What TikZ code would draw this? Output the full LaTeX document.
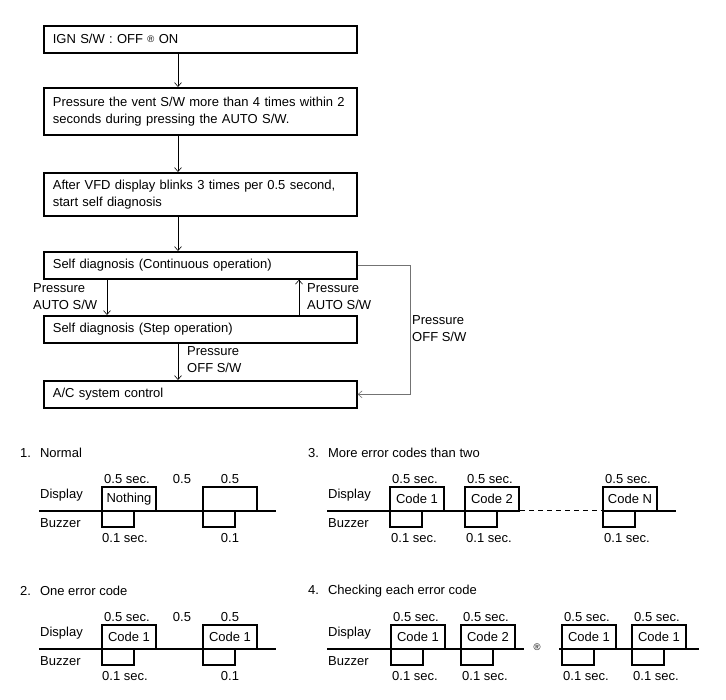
\documentclass[tikz,border=0pt]{standalone}
\usepackage{fontspec}
\setmainfont{Liberation Sans}
\usetikzlibrary{arrows.meta}
\newcommand\tpulse[4]{%
  \draw[wave] ({#1},{-#2}) |- ({#1+54},{-#2+24}) -- ({#1+54},{-#2});
  \draw[wave] ({#1},{-#2}) |- ({#1+32},{-#2-16}) -- ({#1+32},{-#2});
  \node[tl] (#4) at ({#1+27},{-#2+12}) {#3};
}
\newcommand\smallreg{{\fontsize{9.5}{9.5}\selectfont\raisebox{1.5pt}{®}}}
\begin{document}
\begin{tikzpicture}[x=1pt,y=1pt,
  font=\fontsize{13}{17}\selectfont,
  fbox/.style={draw, line width=1.7pt, anchor=north west, minimum width=313pt,
    text width=295pt, inner xsep=9pt, inner ysep=0pt, align=left},
  arr/.style={-{Straight Barb[length=4pt,width=7pt]}, line width=0.6pt},
  lbl/.style={inner sep=0pt, anchor=west, align=left},
  tl/.style={inner sep=0pt},
  wave/.style={line width=1.5pt},
  base/.style={line width=2pt},
]
\useasboundingbox (0,0) rectangle (726,-700);

% ---------- flowchart ----------
\coordinate (ax) at (178,0);
\coordinate (axl) at (107,0);
\coordinate (axr) at (299,0);
\coordinate (loopx) at (410,0);

\node[fbox, minimum height=27pt] (b1) at (43,-25) {IGN S/W : OFF \smallreg{} ON};
\node[fbox, minimum height=47pt] (b2) at (43,-87) {Pressure the vent S/W more than 4 times within 2\\seconds during pressing the AUTO S/W.};
\node[fbox, minimum height=43pt] (b3) at (43,-172) {After VFD display blinks 3 times per 0.5 second,\\start self diagnosis};
\node[fbox, minimum height=27pt] (b4) at (43,-251) {Self diagnosis (Continuous operation)};
\node[fbox, minimum height=27pt] (b5) at (43,-315) {Self diagnosis (Step operation)};
\node[fbox, minimum height=27pt] (b6) at (43,-380) {A/C system control};

\draw[arr] (b1.south -| ax) -- (b2.north -| ax);
\draw[arr] (b2.south -| ax) -- (b3.north -| ax);
\draw[arr] (b3.south -| ax) -- (b4.north -| ax);
\draw[arr] (b4.south -| axl) -- (b5.north -| axl);
\draw[arr] (b5.north -| axr) -- (b4.south -| axr);
\draw[arr] (b5.south -| ax) -- (b6.north -| ax);
\draw[arr, draw=black!55] (b4.east) -| (loopx |- b6.east) -- (b6.east);

\node[lbl] (p1) at (33,-296.5) {Pressure\\AUTO S/W};
\node[lbl] (p2) at (307,-296.5) {Pressure\\AUTO S/W};
\node[lbl] (p3) at (187,-360) {Pressure\\OFF S/W};
\node[lbl] (p4) at (412,-328.5) {Pressure\\OFF S/W};

% ---------- 1. Normal ----------
\node[lbl] (t1) at (20,-453) {1.\hspace{9pt}Normal};
\node[lbl] (d1) at (40,-495) {Display};
\node[lbl] (z1) at (40,-523) {Buzzer};
\draw[base] (39,-511) -- (276,-511);
\tpulse{102}{511}{Nothing}{n1a}
\tpulse{203}{511}{}{n1b}
\node[tl] (s1a) at (127,-479) {0.5 sec.};
\node[tl] (s1b) at (182,-479) {0.5};
\node[tl] (s1c) at (230,-479) {0.5};
\node[tl] (u1a) at (125,-538) {0.1 sec.};
\node[tl] (u1b) at (230,-538) {0.1};

% ---------- 2. One error code ----------
\node[lbl] (t2) at (20,-591) {2.\hspace{9pt}One error code};
\node[lbl] (d2) at (40,-633) {Display};
\node[lbl] (z2) at (40,-661) {Buzzer};
\draw[base] (39,-649) -- (276,-649);
\tpulse{102}{649}{Code 1}{n2a}
\tpulse{203}{649}{Code 1}{n2b}
\node[tl] (s2a) at (127,-617) {0.5 sec.};
\node[tl] (s2b) at (182,-617) {0.5};
\node[tl] (s2c) at (230,-617) {0.5};
\node[tl] (u2a) at (125,-676) {0.1 sec.};
\node[tl] (u2b) at (230,-676) {0.1};

% ---------- 3. More error codes than two ----------
\node[lbl] (t3) at (308,-453) {3.\hspace{9pt}More error codes than two};
\node[lbl] (d3) at (328,-495) {Display};
\node[lbl] (z3) at (328,-523) {Buzzer};
\draw[base] (327,-511) -- (520,-511);
\draw[line width=1pt, dash pattern=on 5pt off 4pt] (520,-511) -- (603,-511);
\draw[base] (603,-511) -- (676,-511);
\tpulse{390}{511}{Code 1}{n3a}
\tpulse{465}{511}{Code 2}{n3b}
\tpulse{603}{511}{Code N}{n3c}
\node[tl] (s3a) at (415,-479) {0.5 sec.};
\node[tl] (s3b) at (490,-479) {0.5 sec.};
\node[tl] (s3c) at (628,-479) {0.5 sec.};
\node[tl] (u3a) at (414,-538) {0.1 sec.};
\node[tl] (u3b) at (489,-538) {0.1 sec.};
\node[tl] (u3c) at (627,-538) {0.1 sec.};

% ---------- 4. Checking each error code ----------
\node[lbl] (t4) at (308,-591) {4.\hspace{9pt}Checking each error code};
\node[lbl] (d4) at (328,-633) {Display};
\node[lbl] (z4) at (328,-661) {Buzzer};
\draw[base] (327,-649) -- (524,-649);
\node[tl] (r4) at (537,-648) {\smallreg};
\draw[base] (559,-649) -- (699,-649);
\tpulse{391}{649}{Code 1}{n4a}
\tpulse{461}{649}{Code 2}{n4b}
\tpulse{562}{649}{Code 1}{n4c}
\tpulse{632}{649}{Code 1}{n4d}
\node[tl] (s4a) at (416,-617) {0.5 sec.};
\node[tl] (s4b) at (486,-617) {0.5 sec.};
\node[tl] (s4c) at (587,-617) {0.5 sec.};
\node[tl] (s4d) at (657,-617) {0.5 sec.};
\node[tl] (u4a) at (415,-676) {0.1 sec.};
\node[tl] (u4b) at (485,-676) {0.1 sec.};
\node[tl] (u4c) at (586,-676) {0.1 sec.};
\node[tl] (u4d) at (656,-676) {0.1 sec.};
\end{tikzpicture}
\end{document}
